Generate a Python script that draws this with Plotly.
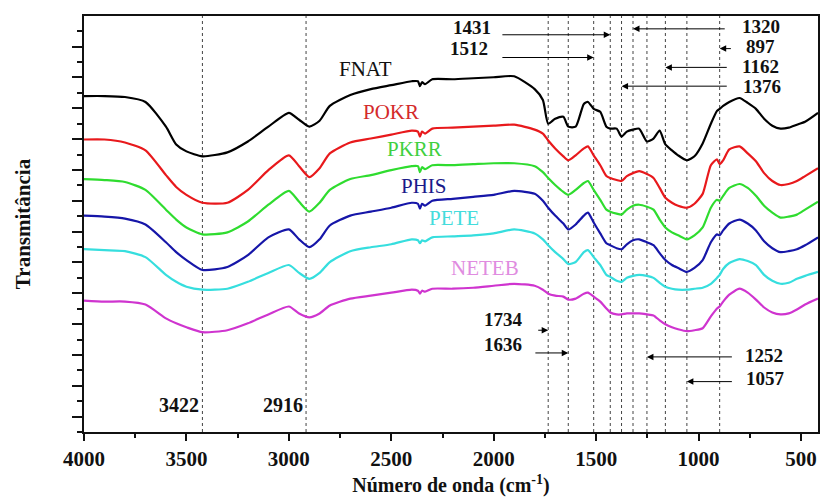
import plotly.graph_objects as go

# Wavenumber grid (cm-1)
wavenumber = [4000, 3900, 3800, 3700, 3600, 3550, 3500, 3422, 3300, 3200,
              3100, 3000, 2950, 2900, 2850, 2800, 2700, 2600, 2500, 2400,
              2370, 2360, 2350, 2335, 2300, 2200, 2100, 2000, 1900, 1800,
              1760, 1734, 1700, 1660, 1636, 1600, 1560, 1540, 1512, 1480,
              1450, 1431, 1400, 1376, 1350, 1320, 1290, 1252, 1220, 1190,
              1162, 1130, 1100, 1057, 1020, 980, 940, 910, 897, 880,
              850, 800, 760, 720, 680, 640, 600, 560, 520, 480, 417]

# Offset transmittance (arbitrary units)
fnat = [34.0, 34.0, 33.9, 33.4, 30.9, 29.1, 28.4, 27.9, 28.3, 29.4,
        30.9, 32.3, 31.6, 30.9, 31.5, 33.0, 34.1, 34.7, 35.1, 35.5,
        35.5, 35.0, 35.4, 35.2, 35.7, 35.7, 35.8, 35.9, 36.0, 34.7,
        33.6, 31.2, 31.7, 31.9, 30.9, 30.9, 33.2, 33.4, 32.7, 32.4,
        30.9, 30.7, 30.7, 29.9, 30.4, 30.6, 30.7, 29.4, 29.7, 30.5,
        29.1, 28.5, 28.0, 27.5, 27.9, 29.2, 31.2, 32.5, 32.7, 33.0,
        33.4, 33.8, 33.3, 32.7, 31.7, 31.0, 30.7, 30.8, 31.1, 31.4, 32.3]

pokr = [29.6, 29.6, 29.3, 28.5, 26.0, 24.8, 24.0, 23.2, 23.2, 24.5,
        26.5, 28.0, 26.9, 25.8, 26.7, 28.2, 29.3, 29.7, 30.1, 30.5,
        30.4, 29.9, 30.4, 30.2, 30.7, 30.8, 30.9, 31.0, 31.1, 30.6,
        30.2, 29.5, 28.7, 27.9, 27.5, 28.0, 28.7, 28.9, 28.0, 27.0,
        25.9, 25.7, 25.5, 25.4, 25.9, 26.2, 26.4, 26.1, 25.7, 24.7,
        23.7, 23.2, 22.9, 22.7, 23.1, 24.1, 27.0, 27.6, 27.1, 27.5,
        28.6, 28.9, 28.2, 27.4, 26.2, 25.4, 25.0, 25.1, 25.4, 25.9, 26.7]

pkrr = [25.6, 25.5, 25.3, 24.5, 22.5, 21.5, 20.7, 20.0, 20.2, 21.3,
        23.0, 24.4, 23.3, 22.3, 23.2, 24.5, 25.6, 26.0, 26.5, 26.9,
        26.9, 26.3, 26.8, 26.6, 27.0, 27.0, 27.1, 27.2, 27.2, 26.9,
        26.3, 25.7, 25.0, 24.3, 24.0, 24.5, 25.2, 25.4, 24.5, 23.5,
        22.5, 22.3, 22.1, 22.0, 22.5, 22.9, 23.0, 22.8, 22.5, 21.5,
        20.7, 20.2, 19.9, 19.5, 19.9, 20.7, 22.7, 23.5, 23.4, 23.9,
        24.7, 25.1, 24.7, 23.9, 22.9, 22.2, 21.7, 21.8, 22.0, 22.5, 23.3]

phis = [21.9, 21.8, 21.6, 21.0, 19.2, 18.2, 17.4, 16.4, 16.7, 17.9,
        19.7, 20.5, 19.5, 18.7, 19.5, 20.9, 21.9, 22.3, 22.7, 23.2,
        23.1, 22.6, 23.1, 22.9, 23.4, 23.6, 23.8, 24.0, 24.4, 24.1,
        23.4, 22.7, 21.9, 21.1, 20.5, 21.0, 21.9, 22.2, 21.2, 20.1,
        19.1, 18.9, 18.6, 18.5, 19.0, 19.4, 19.5, 19.2, 18.9, 18.1,
        17.4, 16.9, 16.6, 16.2, 16.6, 17.4, 19.2, 20.0, 19.9, 20.4,
        21.1, 21.5, 21.1, 20.4, 19.3, 18.6, 18.2, 18.3, 18.5, 18.9, 19.7]

pete = [18.5, 18.4, 18.3, 17.7, 15.9, 15.2, 14.7, 14.4, 14.5, 15.2,
        16.1, 16.9, 16.1, 15.5, 16.1, 17.2, 18.3, 18.7, 19.0, 19.5,
        19.4, 19.1, 19.4, 19.3, 19.7, 19.8, 19.9, 20.1, 20.5, 20.1,
        19.5, 18.9, 18.2, 17.5, 17.0, 17.2, 18.2, 18.4, 17.7, 16.9,
        15.9, 15.7, 15.3, 15.2, 15.6, 15.8, 15.9, 15.8, 15.6, 15.1,
        14.7, 14.5, 14.4, 14.4, 14.5, 14.6, 15.0, 15.6, 15.9, 16.5,
        17.1, 17.5, 17.3, 16.9, 15.9, 15.3, 15.0, 15.1, 15.5, 15.8, 16.2]

neteb = [13.3, 13.2, 13.2, 12.9, 11.5, 11.0, 10.6, 10.1, 10.3, 11.0,
         11.9, 12.7, 12.0, 11.6, 12.0, 12.8, 13.5, 13.8, 14.1, 14.4,
         14.3, 14.0, 14.3, 14.2, 14.5, 14.5, 14.6, 14.8, 15.0, 14.8,
         14.4, 14.0, 13.8, 13.7, 13.4, 13.5, 14.0, 14.1, 13.7, 13.2,
         12.5, 12.1, 11.9, 11.9, 12.0, 12.0, 12.0, 11.9, 11.8, 11.3,
         10.9, 10.6, 10.4, 10.2, 10.3, 10.5, 11.7, 12.5, 12.7, 13.2,
         13.9, 14.5, 14.1, 13.4, 12.6, 12.1, 11.9, 12.0, 12.4, 12.9, 13.5]

series_names = ["FNAT", "POKR", "PKRR", "PHIS", "PETE", "NETEB"]
series_values = [fnat, pokr, pkrr, phis, pete, neteb]
line_colors = ["#000000", "#e8191c", "#2fdc2f", "#1616a8", "#36dede", "#cf34cf"]
label_colors = ["#111111", "#d42a2a", "#3fd03f", "#1a1a8a", "#44dcdc", "#e08ce0"]
# label positions (wavenumber, value)
label_x = [2627, 2500, 2389, 2340, 2194, 2043]
label_y = [36.7, 32.4, 28.6, 24.9, 21.7, 16.6]

# Marked bands
marked_peaks = [3422, 2916, 1734, 1636, 1512, 1431, 1376, 1320, 1252, 1162, 1057, 897]

# Arrow callouts: band, arrow level, arrow tail, label x, label y
callout_band = [1431, 1512, 1320, 897, 1162, 1376, 1734, 1636, 1252, 1057]
callout_level = [40.2, 37.9, 40.8, 38.8, 36.9, 35.0, 10.3, 8.0, 7.6, 5.1]
callout_tail = [1965, 1965, 865, 835, 855, 855, 1790, 1804, 830, 830]
callout_text_x = [2106, 2121, 694, 699, 699, 689, 1950, 1955, 680, 675]
callout_text_y = [40.9, 38.8, 41.0, 39.0, 37.0, 35.0, 11.4, 8.9, 7.7, 5.4]

bottom_labels = [3422, 2916]
bottom_label_y = 2.7

FONT = "Liberation Serif"

fig = go.Figure()

for name, vals, col in zip(series_names, series_values, line_colors):
    fig.add_trace(go.Scatter(x=wavenumber, y=vals, mode="lines", name=name,
                             line=dict(color=col, width=2.2, shape="spline", smoothing=0.6),
                             showlegend=False))

shapes = []
for p in marked_peaks:
    shapes.append(dict(type="line", xref="x", yref="paper", x0=p, x1=p, y0=0, y1=1,
                       line=dict(color="#444444", width=1, dash="dot"), layer="below"))

annotations = []
for b, lv, tail in zip(callout_band, callout_level, callout_tail):
    annotations.append(dict(x=b, y=lv, ax=tail, ay=lv, axref="x", ayref="y",
                            xref="x", yref="y", text="", showarrow=True,
                            arrowhead=2, arrowsize=1.3, arrowwidth=1,
                            arrowcolor="#000000", standoff=0, startstandoff=0))
for b, tx, ty in zip(callout_band, callout_text_x, callout_text_y):
    annotations.append(dict(x=tx, y=ty, xref="x", yref="y", text=str(b), showarrow=False,
                            font=dict(family=FONT, size=19, color="#111111", weight="bold")))
for b in bottom_labels:
    annotations.append(dict(x=b, y=bottom_label_y, xref="x", yref="y", text=str(b),
                            showarrow=False, xanchor="right", xshift=-1,
                            font=dict(family=FONT, size=20, color="#111111", weight="bold")))
for name, lx, ly, lc in zip(series_names, label_x, label_y, label_colors):
    annotations.append(dict(x=lx, y=ly, xref="x", yref="y", text=name, showarrow=False,
                            font=dict(family=FONT, size=21, color=lc)))

fig.update_layout(
    width=824, height=497,
    margin=dict(l=84, r=4, t=16, b=60),
    plot_bgcolor="white", paper_bgcolor="white",
    shapes=shapes, annotations=annotations,
    xaxis=dict(range=[4000, 417], tickmode="linear", tick0=0, dtick=500,
               ticks="outside", ticklen=7, tickwidth=1.5, tickcolor="#111",
               minor=dict(dtick=250, ticklen=4, tickwidth=1.5, tickcolor="#111", ticks="outside"),
               showline=True, linecolor="#111", linewidth=1.5, mirror=True,
               showgrid=False, zeroline=False,
               tickfont=dict(family=FONT, size=21, color="#111", weight="bold"),
               title=dict(text="Número de onda (cm<sup>-1</sup>)", standoff=8,
                          font=dict(family=FONT, size=20, color="#111", weight="bold"))),
    xaxis2=dict(overlaying="x", side="top", range=[0, 9.946], tickmode="linear",
                tick0=0, dtick=2, ticks="inside", ticklen=8, tickwidth=1.5, tickcolor="#111",
                minor=dict(dtick=1, ticklen=4, tickwidth=1.5, tickcolor="#111", ticks="inside"),
                showticklabels=False, showgrid=False, zeroline=False, showline=False),
    yaxis=dict(range=[0, 42.1], tickmode="linear", tick0=1.56, dtick=3.12,
               ticks="outside", ticklen=10, tickwidth=1.5, tickcolor="#111",
               minor=dict(dtick=1.56, tick0=0, ticklen=5, tickwidth=1.5, tickcolor="#111", ticks="outside"),
               showticklabels=False, showline=True, linecolor="#111", linewidth=1.5,
               mirror=True, showgrid=False, zeroline=False,
               title=dict(text="Transmitância", standoff=36,
                          font=dict(family=FONT, size=21, color="#111", weight="bold"))),
)

fig.write_html("out.html")
